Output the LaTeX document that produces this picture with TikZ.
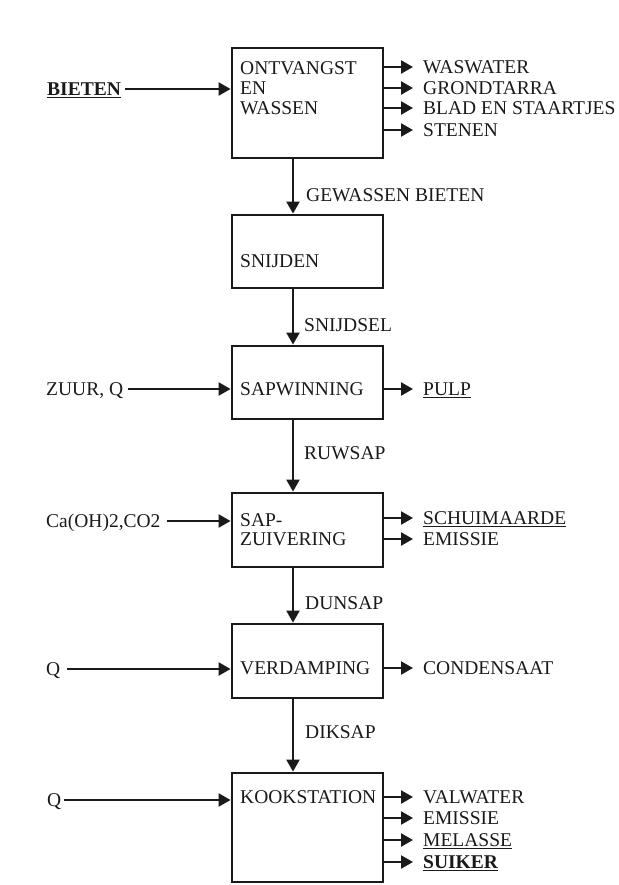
\documentclass[tikz,border=0pt]{standalone}
\usepackage{fontspec}
\setmainfont{Liberation Serif}
\usetikzlibrary{arrows.meta}
\definecolor{ink}{HTML}{1A1A1A}
\tikzset{
  procbox/.style={draw=ink, line width=2.8pt, minimum width=151pt, inner sep=0pt},
  lbl/.style={anchor=west, inner sep=0pt, text height=12.9pt, text depth=0pt, text=ink,
              font=\fontsize{19.5}{20}\selectfont},
  arr/.style={draw=ink, line width=2.3pt, -{Triangle[length=12pt,width=13pt]}},
}
\begin{document}
\begin{tikzpicture}[x=1pt,y=-1pt]
\useasboundingbox[fill=white] (0,0) rectangle (618,885);

% process boxes
\node[procbox, minimum height=110pt] (b1) at (307.5,103) {};
\node[procbox, minimum height=73pt]  (b2) at (307.5,251.5) {};
\node[procbox, minimum height=73pt]  (b3) at (307.5,382.5) {};
\node[procbox, minimum height=74pt]  (b4) at (307.5,530) {};
\node[procbox, minimum height=74pt]  (b5) at (307.5,661) {};
\node[procbox, minimum height=109pt] (b6) at (307.5,827.5) {};

% box texts
\node[lbl] (t1a) at (240,68)  {ONTVANGST};
\node[lbl] (t1b) at (240,88)  {EN};
\node[lbl] (t1c) at (240,108) {WASSEN};
\node[lbl] (t2)  at (240,261) {SNIJDEN};
\node[lbl] (t3)  at (240,389) {SAPWINNING};
\node[lbl] (t4a) at (240,520) {SAP-};
\node[lbl] (t4b) at (240,539) {ZUIVERING};
\node[lbl] (t5)  at (240,668) {VERDAMPING};
\node[lbl] (t6)  at (240,797) {KOOKSTATION};

% inputs
\node[lbl] (i1) at (47,89)  {\textbf{\underline{BIETEN}}};
\node[lbl] (i3) at (46,389) {ZUUR, Q};
\node[lbl] (i4) at (46,521) {Ca(OH)2,CO2};
\node[lbl] (i5) at (46,669) {Q};
\node[lbl] (i6) at (47,800) {Q};

\draw[arr] ([xshift=4pt]i1.east) -- (i1 -| b1.west);
\draw[arr] ([xshift=5pt]i3.east) -- (i3 -| b3.west);
\draw[arr] ([xshift=6pt]i4.east) -- (i4 -| b4.west);
\draw[arr] ([xshift=7pt]i5.east) -- (i5 -| b5.west);
\draw[arr] ([xshift=3pt]i6.east) -- (i6 -| b6.west);

% outputs
\node[lbl] (o1a) at (423,67)  {WASWATER};
\node[lbl] (o1b) at (423,88)  {GRONDTARRA};
\node[lbl] (o1c) at (423,108) {BLAD EN STAARTJES};
\node[lbl] (o1d) at (423,130) {STENEN};
\node[lbl] (o3)  at (423,389) {\underline{PULP}};
\node[lbl] (o4a) at (423,518) {\underline{SCHUIMAARDE}};
\node[lbl] (o4b) at (423,539) {EMISSIE};
\node[lbl] (o5)  at (423,668) {CONDENSAAT};
\node[lbl] (o6a) at (423,797) {VALWATER};
\node[lbl] (o6b) at (423,818) {EMISSIE};
\node[lbl] (o6c) at (423,840) {\underline{MELASSE}};
\node[lbl] (o6d) at (423,862) {\textbf{\underline{SUIKER}}};

\foreach \o/\b in {o1a/b1,o1b/b1,o1c/b1,o1d/b1,o3/b3,o4a/b4,o4b/b4,o5/b5,o6a/b6,o6b/b6,o6c/b6,o6d/b6}
  \draw[arr] (\b.east |- \o) -- ([xshift=-10pt]\o.west);

% flow between boxes
\node[lbl] (f1) at (306,195) {GEWASSEN BIETEN};
\node[lbl] (f2) at (304,325) {SNIJDSEL};
\node[lbl] (f3) at (304,453) {RUWSAP};
\node[lbl] (f4) at (305,603) {DUNSAP};
\node[lbl] (f5) at (305,732) {DIKSAP};

\draw[arr] ([xshift=-14.5pt]b1.south) -- ([xshift=-14.5pt]b2.north);
\draw[arr] ([xshift=-14.5pt]b2.south) -- ([xshift=-14.5pt]b3.north);
\draw[arr] ([xshift=-14.5pt]b3.south) -- ([xshift=-14.5pt]b4.north);
\draw[arr] ([xshift=-14.5pt]b4.south) -- ([xshift=-14.5pt]b5.north);
\draw[arr] ([xshift=-14.5pt]b5.south) -- ([xshift=-14.5pt]b6.north);
\end{tikzpicture}
\end{document}
